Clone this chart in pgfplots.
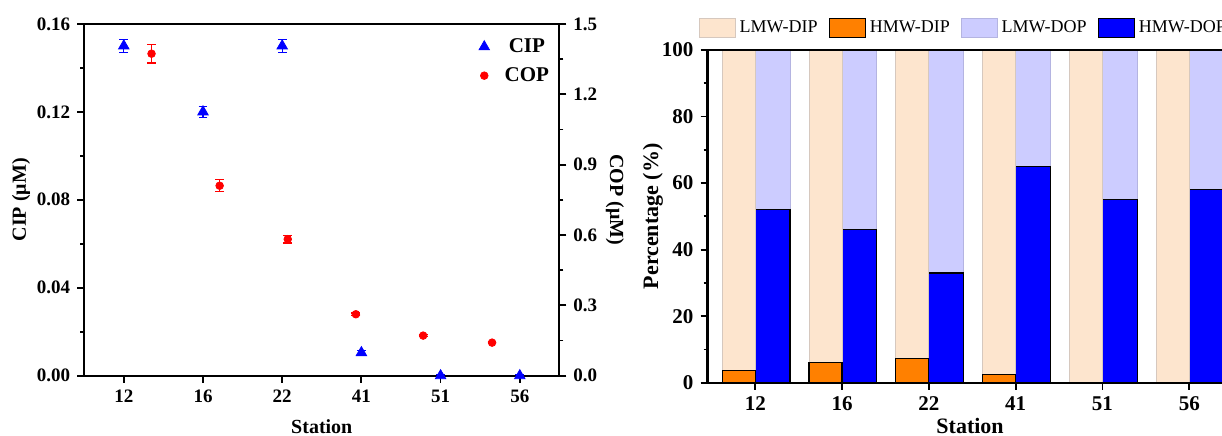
\documentclass[border=0pt]{standalone}
\usepackage{fontspec}
\setmainfont{Liberation Serif}
\usepackage{pgfplots}
\pgfplotsset{compat=1.18}

\definecolor{cipblue}{RGB}{0,0,255}
\definecolor{copred}{RGB}{255,0,0}
\definecolor{lmwdip}{RGB}{253,229,206}
\definecolor{lmwdipedge}{RGB}{214,200,190}
\definecolor{hmwdip}{RGB}{255,128,0}
\definecolor{lmwdop}{RGB}{204,204,255}
\definecolor{lmwdopedge}{RGB}{180,180,225}
\definecolor{hmwdop}{RGB}{0,0,255}

\pgfplotsset{
  common/.style={
    scale only axis,
    anchor=south west,
    /pgf/number format/assume math mode=true,
    tick align=outside,
    major tick length=3.5pt,
    minor tick length=2pt,
    axis line style={line width=1.1pt},
    every tick/.append style={line width=0.9pt, black},
    scaled y ticks=false,
  },
  errs/.style={
    error bars/.cd, y dir=both, y explicit,
    error bar style={line width=0.6pt},
    error mark options={rotate=90, mark size=2.2pt, line width=0.6pt},
  },
}

\begin{document}
\begin{tikzpicture}

% ---- left panel: CIP (left axis) ----
\begin{axis}[common,
  at={(42.1pt,29.65pt)}, width=237.6pt, height=175.9pt,
  xmin=-0.5, xmax=5.5, ymin=0, ymax=0.16,
  xtick={0,1,2,3,4,5}, xticklabels={12,16,22,41,51,56},
  ytick={0,0.04,0.08,0.12,0.16}, minor y tick num=1,
  tick pos=left,
  yticklabel style={/pgf/number format/.cd, fixed, fixed zerofill, precision=2, /tikz/.cd},
  tick label style={font=\fontsize{9.5}{11}\selectfont\bfseries},
  xlabel={Station}, ylabel={CIP (μM)},
  every axis x label/.style={at={(rel axis cs:0.5,0)}, anchor=base, yshift=-28.7pt,
    font=\fontsize{10}{12}\selectfont\bfseries},
  every axis y label/.style={at={(rel axis cs:0,0.5)}, xshift=-31.6pt, rotate=90, anchor=center,
    font=\fontsize{10}{12}\selectfont\bfseries},
]
\addplot[only marks, mark=triangle*, mark size=3pt, color=cipblue, errs]
  coordinates {
    (0,0.150) +- (0,0.003)
    (1,0.120) +- (0,0.0026)
    (2,0.150) +- (0,0.003)
    (3,0.0105) +- (0,0.001)
    (4,0.000) +- (0,0.0005)
    (5,0.000) +- (0,0.0005)
  };
\end{axis}

% ---- left panel: COP (right axis) ----
\begin{axis}[common,
  at={(42.1pt,29.65pt)}, width=237.6pt, height=175.9pt,
  xmin=-0.5, xmax=5.5, ymin=0, ymax=1.5,
  axis x line=none, axis y line*=right,
  ytick={0,0.3,0.6,0.9,1.2,1.5}, minor y tick num=1,
  yticklabel style={/pgf/number format/.cd, fixed, fixed zerofill, precision=1, /tikz/.cd},
  tick label style={font=\fontsize{9.5}{11}\selectfont\bfseries},
  ylabel={COP (μM)},
  every axis y label/.style={at={(rel axis cs:1,0.5)}, xshift=27.8pt, rotate=-90, anchor=center,
    font=\fontsize{10}{12}\selectfont\bfseries},
  legend style={draw=none, fill=none, at={(rel axis cs:1,1)}, anchor=north east,
    xshift=0pt, yshift=-3pt, font=\fontsize{10.5}{12}\selectfont\bfseries,
    row sep=2pt},
  legend image code/.code={\draw[#1] plot coordinates {(0pt,0pt)}; \path (-3pt,0pt) (8pt,0pt);},
]
\addlegendimage{only marks, mark=triangle*, mark size=3pt, color=cipblue}
\addlegendentry{CIP}
\addplot[only marks, mark=*, mark size=1.9pt, color=copred, errs]
  coordinates {
    (0.35,1.373) +- (0,0.040)
    (1.21,0.810) +- (0,0.025)
    (2.07,0.582) +- (0,0.016)
    (2.93,0.262) +- (0,0.005)
    (3.78,0.171) +- (0,0.005)
    (4.65,0.141) +- (0,0.005)
  };
\addlegendentry{COP}
\end{axis}

% ---- right panel: DOP stack (drawn first, hidden axis) ----
\begin{axis}[common,
  at={(353.75pt,26.15pt)}, width=262.6pt, height=166.35pt,
  xmin=-0.55, xmax=5.5, ymin=0, ymax=100,
  ybar stacked, bar width=0.4,
  hide axis,
]
\addplot[bar shift=0.2, fill=hmwdop, draw=black, line width=0.6pt]
  coordinates {(0,52) (1,46) (2,33) (3,65) (4,55) (5,58)};
\addplot[bar shift=0.2, fill=lmwdop, draw=lmwdopedge, line width=0.4pt]
  coordinates {(0,48) (1,54) (2,67) (3,35) (4,45) (5,42)};
\end{axis}

% ---- right panel: DIP stack with visible axis ----
\begin{axis}[common,
  at={(353.75pt,26.15pt)}, width=262.6pt, height=166.35pt,
  xmin=-0.55, xmax=5.5, ymin=0, ymax=100,
  ybar stacked, bar width=0.38,
  axis on top,
  xtick={0,1,2,3,4,5}, xticklabels={12,16,22,41,51,56},
  ytick={0,20,40,60,80,100}, minor y tick num=1,
  tick pos=left,
  tick label style={font=\fontsize{10.5}{12}\selectfont\bfseries},
  xlabel={Station}, ylabel={Percentage (\%)},
  every axis x label/.style={at={(rel axis cs:0.5,0)}, anchor=base, yshift=-25.2pt,
    font=\fontsize{11}{13}\selectfont\bfseries},
  every axis y label/.style={at={(rel axis cs:0,0.5)}, xshift=-27.3pt, rotate=90, anchor=center,
    font=\fontsize{11}{13}\selectfont\bfseries},
  legend columns=4,
  legend style={draw=none, fill=none, at={(rel axis cs:0,1)}, anchor=south west,
    xshift=-7.5pt, yshift=3pt, font=\fontsize{9}{10}\selectfont,
    /tikz/every even column/.append style={column sep=3.5pt}},
  legend image code/.code={\draw[#1] (0pt,-4.75pt) rectangle (18pt,4.75pt);},
]
\addlegendimage{fill=lmwdip, draw=lmwdipedge, line width=0.4pt}
\addlegendentry{LMW-DIP}
\addlegendimage{fill=hmwdip, draw=black, line width=0.6pt}
\addlegendentry{HMW-DIP}
\addlegendimage{fill=lmwdop, draw=lmwdopedge, line width=0.4pt}
\addlegendentry{LMW-DOP}
\addlegendimage{fill=hmwdop, draw=black, line width=0.6pt}
\addlegendentry{HMW-DOP}
\addplot[forget plot, bar shift=-0.19, fill=hmwdip, draw=black, line width=0.6pt]
  coordinates {(0,3.6) (1,6.1) (2,7.3) (3,2.5) (4,0) (5,0)};
\addplot[forget plot, bar shift=-0.19, fill=lmwdip, draw=lmwdipedge, line width=0.4pt]
  coordinates {(0,96.4) (1,93.9) (2,92.7) (3,97.5) (4,100) (5,100)};
\end{axis}

\pgfresetboundingbox
\useasboundingbox (0,0) rectangle (611pt,217.5pt);
\end{tikzpicture}
\end{document}
